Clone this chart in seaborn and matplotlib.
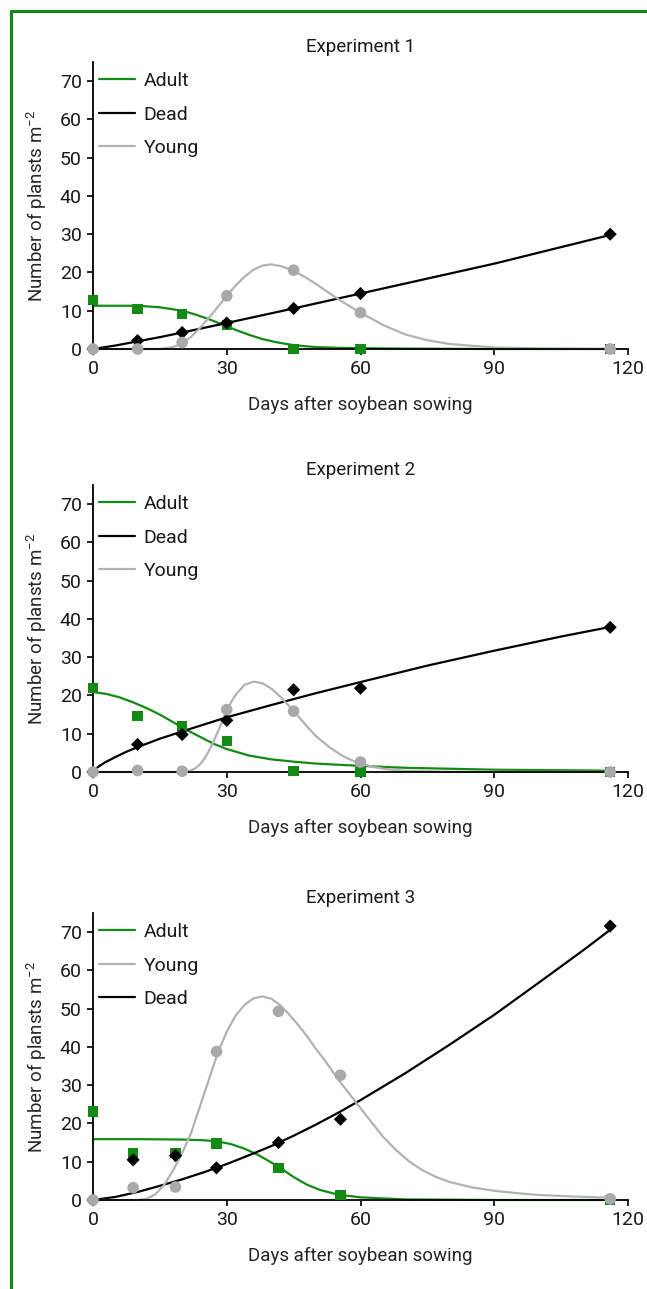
import matplotlib
matplotlib.use("Agg")
import matplotlib.pyplot as plt
from matplotlib.lines import Line2D
import seaborn as sns

# -----------------------------
# Observed counts (plants m-2)
# -----------------------------
exp1_days = [0, 10, 20, 30, 45, 60, 116]
exp1_adult = [12.8, 10.4, 9.1, 6.3, 0, 0, 0]
exp1_dead = [0, 2.2, 4.3, 6.8, 10.6, 14.5, 30.0]
exp1_young = [0, 0, 1.7, 13.9, 20.6, 9.5, 0]

exp2_days = [0, 10, 20, 30, 45, 60, 116]
exp2_adult = [21.9, 14.6, 11.9, 8.1, 0.3, 0, 0]
exp2_dead = [0, 7.2, 9.8, 13.5, 21.5, 21.9, 37.8]
exp2_young = [0, 0.4, 0.2, 16.3, 15.9, 2.6, 0]

exp3_days = [0, 9, 18.5, 27.7, 41.6, 55.5, 116]
exp3_adult = [23.1, 12.2, 12.3, 14.8, 8.4, 1.3, 0]
exp3_dead = [0, 10.5, 11.6, 8.4, 15.0, 21.1, 71.6]
exp3_young = [0, 3.2, 3.4, 38.8, 49.3, 32.6, 0.3]

# -----------------------------
# Fitted curves
# -----------------------------
exp1_adult_fit_x = [0, 10, 15, 20, 23, 26, 29, 32, 35, 38, 41, 45, 50, 55, 60, 70, 90, 116]
exp1_adult_fit = [11.3, 11.3, 10.9, 10.0, 9.0, 7.8, 6.4, 5.0, 3.7, 2.6, 1.8, 1.0, 0.5, 0.3, 0.2, 0.1, 0, 0]
exp1_dead_fit_x = [0, 5, 10, 15, 20, 30, 45, 60, 90, 116]
exp1_dead_fit = [0, 0.9, 2.0, 3.1, 4.3, 6.8, 10.6, 14.5, 22.3, 29.8]
exp1_young_fit_x = [0, 15, 18, 20, 22, 24, 26, 28, 30, 32, 34, 36, 38, 40, 42, 44, 46, 48, 50,
                    53, 56, 60, 65, 70, 75, 80, 90, 100, 116]
exp1_young_fit = [0, 0, 0.5, 1.5, 3.2, 5.5, 8.2, 11.0, 13.9, 16.6, 18.9, 20.7, 21.8, 22.1, 21.7,
                  20.9, 19.8, 18.5, 17.0, 14.6, 12.3, 9.5, 6.3, 3.8, 2.3, 1.3, 0.4, 0.15, 0]

exp2_adult_fit_x = [0, 3, 6, 9, 12, 15, 18, 21, 24, 27, 30, 35, 40, 45, 50, 60, 70, 90, 116]
exp2_adult_fit = [20.9, 20.4, 19.5, 18.2, 16.7, 15.0, 13.0, 11.0, 9.2, 7.4, 6.0, 4.3, 3.3, 2.7,
                  2.2, 1.6, 1.1, 0.6, 0.35]
exp2_dead_fit_x = [0, 1, 2.5, 5, 7.5, 10, 15, 20, 30, 40, 50, 60, 75, 90, 105, 116]
exp2_dead_fit = [0, 1.2, 2.4, 3.9, 5.3, 6.5, 8.7, 10.6, 14.3, 17.5, 20.6, 23.5, 27.8, 31.7, 35.4, 37.9]
exp2_young_fit_x = [0, 20, 22, 23, 24, 25, 26, 27, 28, 29, 30, 31, 32, 34, 36, 38, 40, 42, 44,
                    46, 48, 50, 53, 56, 58, 60, 63, 66, 70, 80, 116]
exp2_young_fit = [0, 0, 0.4, 1.0, 2.0, 3.5, 5.5, 7.9, 10.5, 13.3, 16.0, 18.3, 20.2, 22.8, 23.6,
                  23.2, 21.8, 19.7, 17.2, 14.6, 11.9, 9.4, 6.5, 4.2, 3.1, 2.2, 1.3, 0.7, 0.3,
                  0.05, 0]

exp3_adult_fit_x = [0, 10, 20, 25, 28, 31, 34, 37, 40, 42, 45, 48, 51, 55, 60, 70, 90, 116]
exp3_adult_fit = [15.9, 15.9, 15.8, 15.6, 15.3, 14.6, 13.4, 11.8, 9.8, 8.4, 6.0, 4.0, 2.6, 1.4,
                  0.7, 0.15, 0, 0]
exp3_dead_fit_x = [0, 5, 10, 15, 20, 25, 30, 35, 40, 45, 50, 55, 60, 70, 80, 90, 100, 110, 116]
exp3_dead_fit = [0, 0.8, 2.1, 3.7, 5.4, 7.3, 9.4, 11.7, 14.1, 16.8, 19.7, 22.8, 26.1, 33.1,
                 40.6, 48.4, 56.8, 65.3, 70.6]
exp3_young_fit_x = [0, 10, 12, 14, 16, 18, 20, 22, 24, 26, 28, 30, 32, 34, 36, 38, 40, 42, 44,
                    46, 48, 50, 52, 55, 58, 61, 65, 68, 71, 74, 77, 80, 85, 90, 95, 100, 108, 116]
exp3_young_fit = [0, 0, 0.3, 1.5, 4.0, 7.8, 12.3, 17.5, 24.5, 31.5, 38.5, 44.0, 48.2, 51.0, 52.7,
                  53.2, 52.6, 50.9, 48.5, 45.8, 42.8, 39.5, 36.5, 31.5, 27.0, 22.5, 16.6, 13.0,
                  10.0, 7.7, 6.0, 4.7, 3.3, 2.4, 1.8, 1.3, 0.9, 0.6]

titles = ["Experiment 1", "Experiment 2", "Experiment 3"]
legend_orders = [["Adult", "Dead", "Young"], ["Adult", "Dead", "Young"], ["Adult", "Young", "Dead"]]

GREEN = "#138a13"
GREY = "#b2b2b4"
GREY_MK = "#a9a9ab"
BLACK = "#000000"

experiments = [
    (exp1_days, exp1_adult, exp1_dead, exp1_young,
     (exp1_adult_fit_x, exp1_adult_fit), (exp1_dead_fit_x, exp1_dead_fit), (exp1_young_fit_x, exp1_young_fit)),
    (exp2_days, exp2_adult, exp2_dead, exp2_young,
     (exp2_adult_fit_x, exp2_adult_fit), (exp2_dead_fit_x, exp2_dead_fit), (exp2_young_fit_x, exp2_young_fit)),
    (exp3_days, exp3_adult, exp3_dead, exp3_young,
     (exp3_adult_fit_x, exp3_adult_fit), (exp3_dead_fit_x, exp3_dead_fit), (exp3_young_fit_x, exp3_young_fit)),
]

# -----------------------------
# Style
# -----------------------------
sns.set_style("ticks")
plt.rcParams['font.family'] = ['Roboto', 'DejaVu Sans']
plt.rcParams['mathtext.fontset'] = 'custom'
plt.rcParams['mathtext.rm'] = 'Roboto'
plt.rcParams['text.color'] = '#1a1a1a'

W, H = 647, 1289
fig = plt.figure(figsize=(W / 100, H / 100), dpi=100)

ax_left = 93 / W
ax_width = (628 - 93) / W
ax_tops = [62, 485, 913]
ax_h = 287

for i, (days, adult, dead, young, a_fit, d_fit, y_fit) in enumerate(experiments):
    top = ax_tops[i]
    ax = fig.add_axes([ax_left, 1 - (top + ax_h) / H, ax_width, ax_h / H])

    curves = {
        "Adult": (a_fit, GREEN),
        "Dead": (d_fit, BLACK),
        "Young": (y_fit, GREY),
    }
    for name in ["Adult", "Dead", "Young"]:
        (cx, cy), col = curves[name]
        sns.lineplot(x=cx, y=cy, ax=ax, color=col, lw=1.6, label=name,
                     sort=False, estimator=None, clip_on=False)

    sns.scatterplot(x=days, y=adult, ax=ax, marker="s", s=55, color=GREEN,
                    edgecolor="none", clip_on=False, zorder=3)
    sns.scatterplot(x=days, y=dead, ax=ax, marker="D", s=45, color=BLACK,
                    edgecolor="none", clip_on=False, zorder=4)
    sns.scatterplot(x=days, y=young, ax=ax, marker="o", s=70, color=GREY_MK,
                    edgecolor="none", clip_on=False, zorder=5)

    ax.set_xlim(0, 120)
    ax.set_ylim(0, 75)
    ax.set_xticks([0, 30, 60, 90, 120])
    ax.set_yticks(range(0, 71, 10))
    sns.despine(ax=ax)
    for sp in ["left", "bottom"]:
        ax.spines[sp].set_linewidth(1.3)
        ax.spines[sp].set_color("black")
    ax.tick_params(direction="out", length=4.5, width=1.2, labelsize=14,
                   colors="black", labelcolor="#1a1a1a", pad=3.5)

    ax.set_title(titles[i], fontsize=13.5, pad=7)
    ax.set_xlabel("Days after soybean sowing", fontsize=13.5, labelpad=13)
    ax.set_ylabel("Number of plansts m$^{-2}$", fontsize=13.5, labelpad=8)

    handles, labels = ax.get_legend_handles_labels()
    lookup = dict(zip(labels, handles))
    order = legend_orders[i]
    ax.legend([lookup[k] for k in order], order, loc="upper left",
              bbox_to_anchor=(0.011, 0.965), frameon=False, fontsize=14,
              handlelength=1.85, handletextpad=0.46, labelspacing=0.8,
              borderpad=0, borderaxespad=0)

# green frame on the left and top edge of the figure
fig.add_artist(Line2D([11 / W, 11 / W], [0, 1 - 11 / H], transform=fig.transFigure,
                      color=GREEN, lw=2.2))
fig.add_artist(Line2D([11 / W, 1], [1 - 11 / H, 1 - 11 / H], transform=fig.transFigure,
                      color=GREEN, lw=2.2))

fig.savefig("out.png", dpi=100)
